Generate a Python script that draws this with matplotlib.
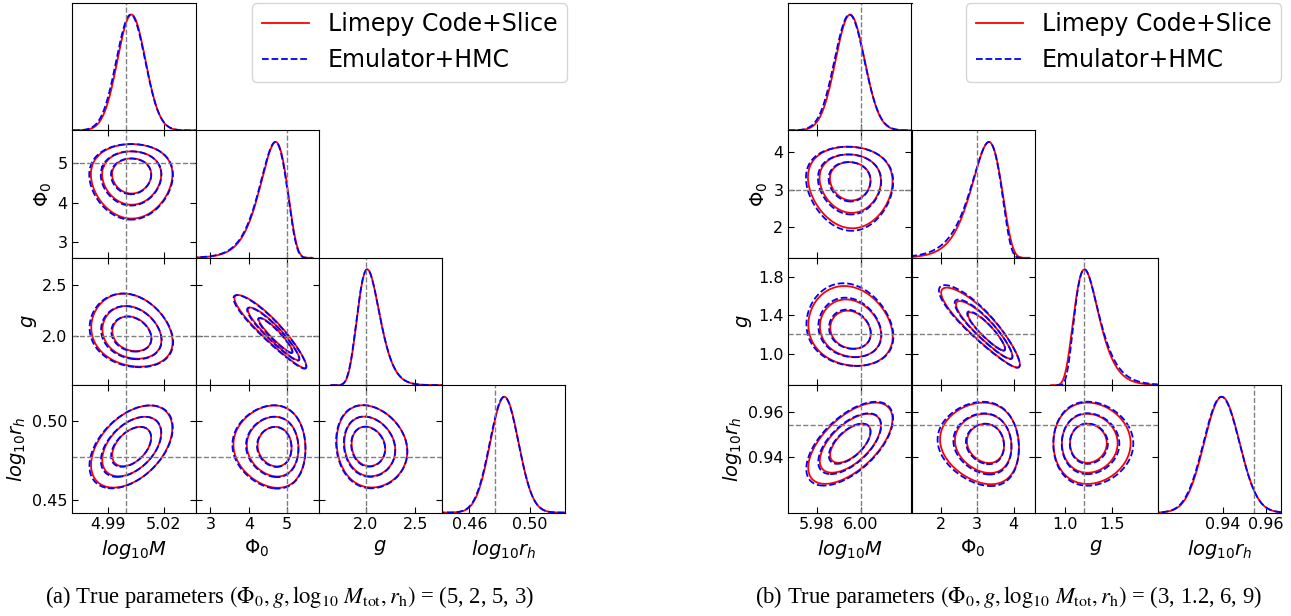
import numpy as np
import matplotlib.pyplot as plt
from matplotlib.lines import Line2D

W, H = 1291, 616
CELL_W, CELL_H = 123.2, 127.4
TOP = 3.0

NAMES = [r'$log_{10}M$', r'$\Phi_0$', r'$g$', r'$log_{10}r_h$']
LEVELS = [0.62, 0.89, 0.985]          # enclosed probability of the 2-D contours

# parameter order on the axes: log10M, Phi0, g, log10 rh
# skew k > 0 gives a long low-side tail, k < 0 a long high-side tail

# ---- (a) true (Phi0, g, log10 Mtot, rh) = (5, 2, 5, 3)
TRUE_A = [5, 2, 5, 3]
RANGE_A = [(4.971, 5.037), (2.61, 5.82), (1.52, 2.77), (0.442, 0.523)]
DIAG_RANGE_A = RANGE_A
XTICKS_A = [[4.99, 5.02], [3, 4, 5], [2.0, 2.5], [0.46, 0.50]]
YTICKS_A = [[], [3, 4, 5], [2.0, 2.5], [0.45, 0.50]]
# 1-D marginals: peak, width, skew
SLICE_PEAK_A = [5.0027, 4.70, 2.013, 0.4831]
SLICE_SD_A = [0.0075, 0.386, 0.118, 0.0093]
SLICE_TAIL_A = [0.0, 0.30, -0.22, 0.0]
HMC_PEAK_A = [5.0023, 4.69, 2.012, 0.4829]
HMC_SD_A = [0.0077, 0.390, 0.119, 0.0094]
HMC_TAIL_A = [0.0, 0.31, -0.22, 0.0]
# 2-D joints: centre, width, skew, pair correlations
# (log10M-Phi0, log10M-g, log10M-rh, Phi0-g, Phi0-rh, g-rh)
SLICE_CEN_A = [5.0028, 4.67, 2.025, 0.4840]
SLICE_WID_A = [0.0075, 0.320, 0.123, 0.0090]
SLICE_SKW_A = [0.0, 0.13, -0.09, 0.0]
SLICE_CORR_A = [0.0, -0.20, 0.45, -0.93, -0.05, -0.12]
HMC_CEN_A = [5.0025, 4.66, 2.022, 0.4838]
HMC_WID_A = [0.0077, 0.325, 0.124, 0.0091]
HMC_SKW_A = [0.0, 0.13, -0.09, 0.0]
HMC_CORR_A = [0.0, -0.20, 0.46, -0.93, -0.05, -0.12]

# ---- (b) true (Phi0, g, log10 Mtot, rh) = (3, 1.2, 6, 9)
TRUE_B = [3, 1.2, 6, 9]
RANGE_B = [(5.967, 6.023), (1.19, 4.58), (0.67, 2.00), (0.9156, 0.972)]
DIAG_RANGE_B = [(5.967, 6.023), (1.19, 4.58), (0.67, 2.00), (0.9098, 0.967)]
XTICKS_B = [[5.98, 6.00], [2, 3, 4], [1.0, 1.5], [0.94, 0.96]]
YTICKS_B = [[], [2, 3, 4], [1.0, 1.4, 1.8], [0.94, 0.96]]
SLICE_PEAK_B = [5.9951, 3.32, 1.207, 0.9395]
SLICE_SD_B = [0.0066, 0.45, 0.145, 0.0082]
SLICE_TAIL_B = [0.0, 0.30, -0.30, 0.0]
HMC_PEAK_B = [5.9948, 3.32, 1.207, 0.9393]
HMC_SD_B = [0.0068, 0.47, 0.150, 0.0083]
HMC_TAIL_B = [0.0, 0.37, -0.38, 0.0]
SLICE_CEN_B = [5.9952, 3.225, 1.250, 0.9463]
SLICE_WID_B = [0.0066, 0.370, 0.143, 0.0062]
SLICE_SKW_B = [0.0, 0.137, -0.085, 0.0]
SLICE_CORR_B = [-0.05, -0.15, 0.60, -0.90, -0.10, 0.0]
HMC_CEN_B = [5.9949, 3.210, 1.255, 0.9461]
HMC_WID_B = [0.0068, 0.380, 0.148, 0.0064]
HMC_SKW_B = [0.0, 0.150, -0.100, 0.0]
HMC_CORR_B = [-0.05, -0.15, 0.60, -0.90, -0.10, 0.0]

PAIRS = [(0, 1), (0, 2), (0, 3), (1, 2), (1, 3), (2, 3)]


def to_axis(u, centre, width, skew):
    # monotone map from a standard normal variable to the parameter axis
    if skew == 0:
        return centre + width * u
    return centre + width / skew * (1 - np.exp(-skew * u))


def marginal(peak, width, skew):
    u = np.linspace(-6, 6, 800)
    d = np.exp(-0.5 * u ** 2 + skew * u)
    centre = peak - (width / skew * (1 - np.exp(-skew ** 2)) if skew else 0.0)
    return to_axis(u, centre, width, skew), d / d.max()


def joint(p, i, j):
    centre, width, skew, corr = p
    rho = corr[PAIRS.index((j, i))]
    g = np.linspace(-5, 5, 401)
    u, v = np.meshgrid(g, g)
    q = (u ** 2 - 2 * rho * u * v + v ** 2) / (1 - rho ** 2)
    mass = np.exp(-0.5 * q)
    dens = mass * np.exp(skew[j] * u + skew[i] * v)
    order = np.argsort(dens.ravel())[::-1]
    cum = np.cumsum(mass.ravel()[order])
    cum /= cum[-1]
    lev = sorted(dens.ravel()[order][np.searchsorted(cum, lv)] for lv in LEVELS)
    x = to_axis(u, centre[j], width[j], skew[j])
    y = to_axis(v, centre[i], width[i], skew[i])
    return x, y, dens, lev


def truth_values(t):
    phi0, g, logm, rh = t
    return [logm, phi0, g, np.log10(rh)]


def corner(left, red1, blue1, red2, blue2, true, ranges, diag_ranges, xticks, yticks):
    tv = truth_values(true)
    for i in range(4):
        for j in range(i + 1):
            ax = fig.add_axes([(left + j * CELL_W) / W, 1 - (TOP + (i + 1) * CELL_H) / H,
                               CELL_W / W, CELL_H / H])
            if i == j:
                x, d = marginal(red1[0][i], red1[1][i], red1[2][i])
                ax.plot(x, d, color='red', lw=1.3)
                x, d = marginal(blue1[0][i], blue1[1][i], blue1[2][i])
                ax.plot(x, d, color='blue', ls='--', lw=1.3)
                ax.axvline(tv[i], color='gray', ls='--', lw=1)
                ax.set_xlim(diag_ranges[i])
                ax.set_ylim(0, 1.1)
                ax.set_yticks([])
                ax.tick_params(direction='in', length=4, labelsize=11.5)
            else:
                x, y, dens, lev = joint(red2, i, j)
                ax.contour(x, y, dens, levels=lev, colors='red', linewidths=1.3)
                x, y, dens, lev = joint(blue2, i, j)
                ax.contour(x, y, dens, levels=lev, colors='blue', linewidths=1.3,
                           linestyles='--')
                ax.axvline(tv[j], color='gray', ls='--', lw=1)
                ax.axhline(tv[i], color='gray', ls='--', lw=1)
                ax.set_xlim(ranges[j])
                ax.set_ylim(ranges[i])
                ax.set_yticks(yticks[i])
                ax.tick_params(direction='in', length=4, top=True, right=True,
                               labelsize=11.5)
            ax.set_xticks(xticks[j])
            if i < 3:
                ax.tick_params(labelbottom=False)
            else:
                ax.set_xlabel(NAMES[j], fontsize=14)
            if j > 0 or i == 0:
                ax.tick_params(labelleft=False)
            else:
                ax.set_ylabel(NAMES[i], fontsize=14, labelpad=2.5)


fig = plt.figure(figsize=(W / 100, H / 100), dpi=100)

corner(72.3,
       (SLICE_PEAK_A, SLICE_SD_A, SLICE_TAIL_A), (HMC_PEAK_A, HMC_SD_A, HMC_TAIL_A),
       (SLICE_CEN_A, SLICE_WID_A, SLICE_SKW_A, SLICE_CORR_A),
       (HMC_CEN_A, HMC_WID_A, HMC_SKW_A, HMC_CORR_A),
       TRUE_A, RANGE_A, DIAG_RANGE_A, XTICKS_A, YTICKS_A)
corner(788.3,
       (SLICE_PEAK_B, SLICE_SD_B, SLICE_TAIL_B), (HMC_PEAK_B, HMC_SD_B, HMC_TAIL_B),
       (SLICE_CEN_B, SLICE_WID_B, SLICE_SKW_B, SLICE_CORR_B),
       (HMC_CEN_B, HMC_WID_B, HMC_SKW_B, HMC_CORR_B),
       TRUE_B, RANGE_B, DIAG_RANGE_B, XTICKS_B, YTICKS_B)

handles = [Line2D([], [], color='red', lw=1.3),
           Line2D([], [], color='blue', ls='--', lw=1.3)]
labels = ['Limepy Code+Slice', 'Emulator+HMC']
for right in (567, 1281):
    fig.legend(handles, labels, loc='upper right', fontsize=17, borderaxespad=0,
               bbox_to_anchor=(right / W, 1 - 3 / H))

cap = r'True parameters $(\Phi_0, g, \log_{10}\,M_{\rm tot}, r_{\rm h})$ = '
for tag, t, cx in (('(a)', TRUE_A, 289), ('(b)', TRUE_B, 1009)):
    fig.text(cx / W, 1 - 597 / H, tag + ' ' + cap + '(' + ', '.join(f'{v:g}' for v in t) + ')',
             ha='center', va='center', fontsize=16.3, family='Liberation Serif',
             math_fontfamily='stix')

fig.savefig('out.png', dpi=100)
